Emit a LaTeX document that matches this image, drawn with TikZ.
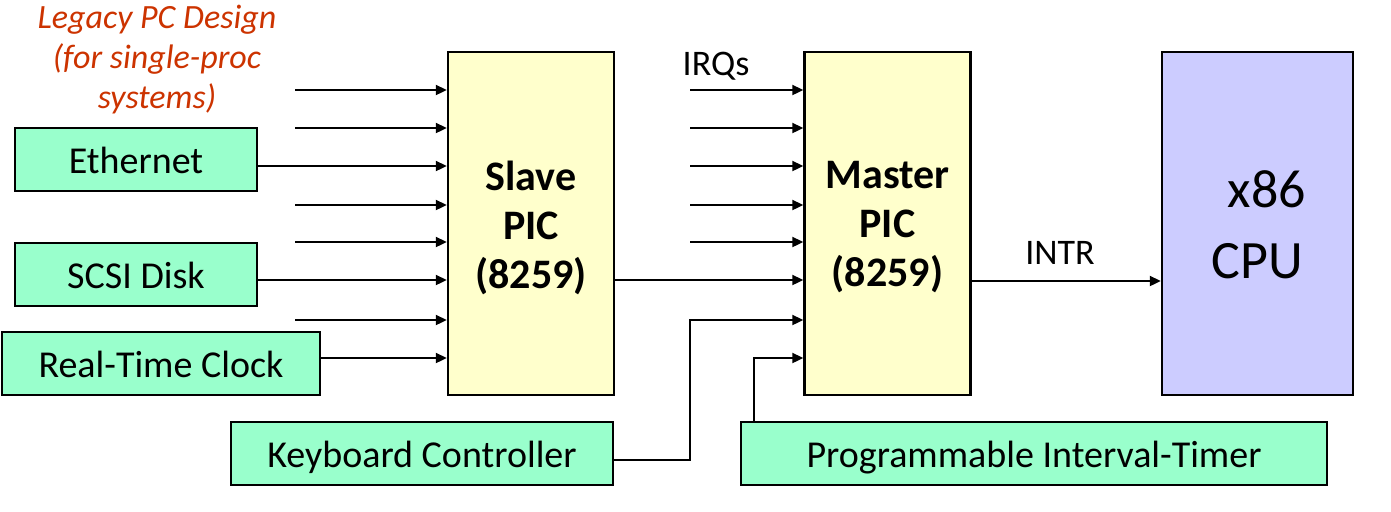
\documentclass[tikz,border=0pt]{standalone}
\usepackage{fontspec}
\setmainfont{Carlito}
\usetikzlibrary{arrows.meta}
\definecolor{boxgreen}{HTML}{99FFCC}
\definecolor{boxyellow}{HTML}{FFFFCC}
\definecolor{boxpurple}{HTML}{CCCCFF}
\definecolor{legacyred}{HTML}{CC3300}
\begin{document}
\begin{tikzpicture}[x=0.5pt,y=-0.5pt,
  dev/.style={draw=black, line width=1.2pt, fill=boxgreen, minimum height=31.5pt, inner sep=0pt, text height=14pt, text depth=0pt, font=\fontsize{19pt}{22pt}\selectfont},
  pic/.style={draw=black, line width=1.2pt, fill=boxyellow, minimum width=83pt, minimum height=171.5pt, inner sep=0pt},
  pictext/.style={inner sep=0pt, align=center, font=\fontsize{21pt}{24.5pt}\selectfont\bfseries},
  cpubox/.style={draw=black, line width=1.2pt, fill=boxpurple, minimum width=95.5pt, minimum height=171.5pt, inner sep=0pt},
  cputext/.style={inner sep=0pt, align=center, font=\fontsize{27pt}{35.5pt}\selectfont},
  lbl/.style={inner sep=0pt, text height=11.6pt, text depth=0pt, font=\fontsize{18pt}{22pt}\selectfont},
  arr/.style={line width=1pt, -{Triangle[length=5.5pt,width=5pt]}}]
\useasboundingbox (0,0) rectangle (1391,511);
% boxes
\node[pic] (slave) at (531,223.5) {};
\node[pictext] (slavetxt) at (531,227.5) {Slave\\PIC\\(8259)};
\node[pic] (master) at (887.5,223.5) {};
\node[pictext] (mastertxt) at (887.5,227.5) {Master\\PIC\\(8259)};
\node[cpubox] (cpu) at (1257.5,223.5) {};
\node[cputext] (cputxt) at (1257.5,225) {\hspace{0.35em}x86\\CPU};
\node[dev, minimum width=121pt] (eth) at (136,159.5) {Ethernet};
\node[dev, minimum width=121pt] (scsi) at (136,274.5) {SCSI Disk};
\node[dev, minimum width=159pt] (rtc) at (161,363.5) {Real-Time Clock};
\node[dev, minimum width=191pt] (kbd) at (422,453.5) {Keyboard Controller};
\node[dev, minimum width=293pt] (pit) at (1034,453.5) {Programmable Interval-Timer};
% labels
\node[lbl] (irqs) at (716,64) {IRQs};
\node[lbl] (intr) at (1060,253) {INTR};
\node[inner sep=0pt, align=center, text=legacyred, font=\fontsize{17pt}{20pt}\selectfont\itshape] (legacy) at (157,60) {Legacy PC Design\\(for single-proc\\systems)};
% slave free inputs
\foreach \y in {90,128,205,242,320} {
  \coordinate (sa\y) at (295,\y);
  \draw[arr] (sa\y) -- (slave.west |- sa\y);
}
\draw[arr] (eth.east |- 0,166) -- (slave.west |- 0,166);
\draw[arr] (scsi.east |- 0,280) -- (slave.west |- 0,280);
\draw[arr] (rtc.east |- 0,358) -- (slave.west |- 0,358);
% master free inputs
\foreach \y in {90,128,166,205,242} {
  \coordinate (ma\y) at (690,\y);
  \draw[arr] (ma\y) -- (master.west |- ma\y);
}
\draw[arr] (slave.east |- 0,280) -- (master.west |- 0,280);
\coordinate (kb1) at (690,460);
\draw[arr] (kbd.east |- kb1) -- (kb1) |- (master.west |- 0,320);
\coordinate (pt1) at (754,422);
\draw[arr] (pt1) |- (master.west |- 0,358);
% INTR
\draw[arr] (master.east |- 0,281) -- (cpu.west |- 0,281);
\end{tikzpicture}
\end{document}
